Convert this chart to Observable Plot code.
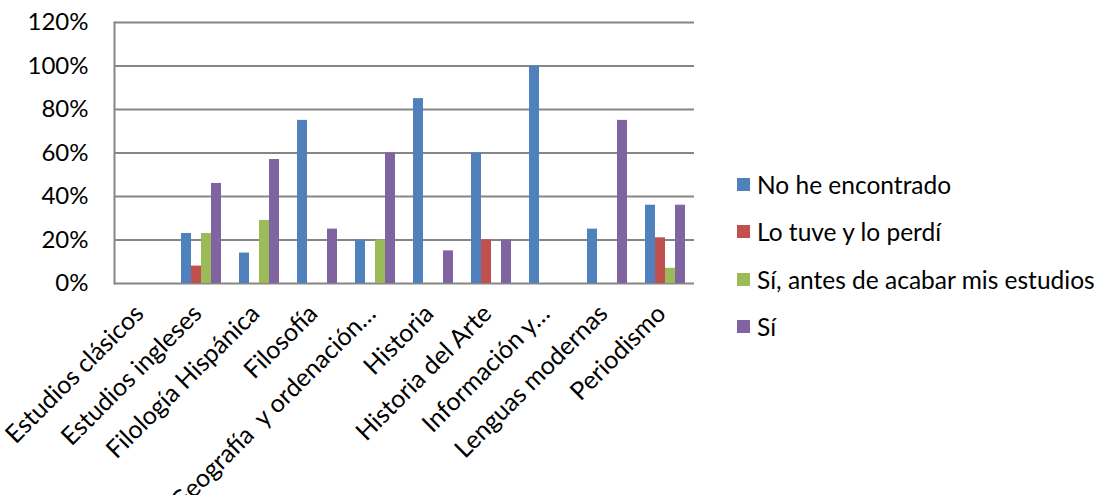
<!DOCTYPE html>
<html>
<head>
<meta charset="utf-8">
<script src="https://cdn.jsdelivr.net/npm/d3@7"></script>
<script src="https://cdn.jsdelivr.net/npm/@observablehq/plot@0.6"></script>
<style>
  html, body { margin: 0; padding: 0; background: #fff; }
  #wrap { position: relative; width: 1105px; height: 495px; font-family: Lato, "Open Sans", sans-serif; }
  #legend { position: absolute; left: 737px; top: 161px; font-size: 24.5px; color: #000; }
  .item { display: flex; align-items: center; height: 47.3px; white-space: nowrap; }
  .sw { width: 13px; height: 13px; margin-right: 7px; }
</style>
</head>
<body>
<div id="wrap"></div>
<script>
const categories = ["Estudios clásicos", "Estudios ingleses", "Filología Hispánica", "Filosofía", "Geografía  y ordenación…", "Historia", "Historia del Arte", "Información y…", "Lenguas modernas", "Periodismo"];
const series = ["No he encontrado", "Lo tuve y lo perdí", "Sí, antes de acabar mis estudios", "Sí"];
const noEncontrado = [0, 23, 14, 75, 20, 85, 60, 100, 25, 36];
const loPerdi      = [0, 8, 0, 0, 0, 0, 20, 0, 0, 21];
const antes        = [0, 23, 29, 0, 20, 0, 0, 0, 0, 7];
const si           = [0, 46, 57, 25, 60, 15, 20, 0, 75, 36];
const colors = ["#4F81BD", "#C0504D", "#9BBB59", "#8064A2"];
const yTicks = [0, 20, 40, 60, 80, 100, 120];

const seriesValues = [noEncontrado, loPerdi, antes, si];
const data = categories.flatMap((c, i) => series.map((s, j) => ({cat: c, series: s, value: seriesValues[j][i]})));

const chart = Plot.plot({
  width: 1105, height: 495,
  marginLeft: 114, marginRight: 411, marginTop: 22, marginBottom: 212,
  style: {fontFamily: "Lato, 'Open Sans', sans-serif", fontSize: "24px", color: "#000", background: "#fff"},
  fx: {domain: categories, padding: 0, label: null},
  x: {domain: series, axis: null, paddingInner: 0, paddingOuter: 0.76},
  y: {domain: [0, 120], label: null},
  color: {domain: series, range: colors},
  marks: [
    Plot.gridY(yTicks, {stroke: "#868686", strokeOpacity: 1, strokeWidth: 2}),
    Plot.barY(data, {fx: "cat", x: "series", y: "value", fill: "series"}),
    Plot.axisY(yTicks, {tickSize: 0, tickPadding: 26, tickFormat: d => d + "%", label: null, fill: "#000"}),
    Plot.frame({anchor: "left", facetAnchor: "left", stroke: "#868686", strokeWidth: 2}),
    Plot.axisFx({anchor: "bottom", tickRotate: -45, tickSize: 0, tickPadding: 26, dx: -4, fontSize: 25, label: null, fill: "#000"})
  ]
});
const wrap = document.getElementById("wrap");
wrap.appendChild(chart);

const legend = document.createElement("div");
legend.id = "legend";
series.forEach((s, j) => {
  const it = document.createElement("div");
  it.className = "item";
  const sw = document.createElement("div");
  sw.className = "sw";
  sw.style.background = colors[j];
  const t = document.createElement("span");
  t.textContent = s;
  it.appendChild(sw); it.appendChild(t);
  legend.appendChild(it);
});
wrap.appendChild(legend);
</script>
</body>
</html>
